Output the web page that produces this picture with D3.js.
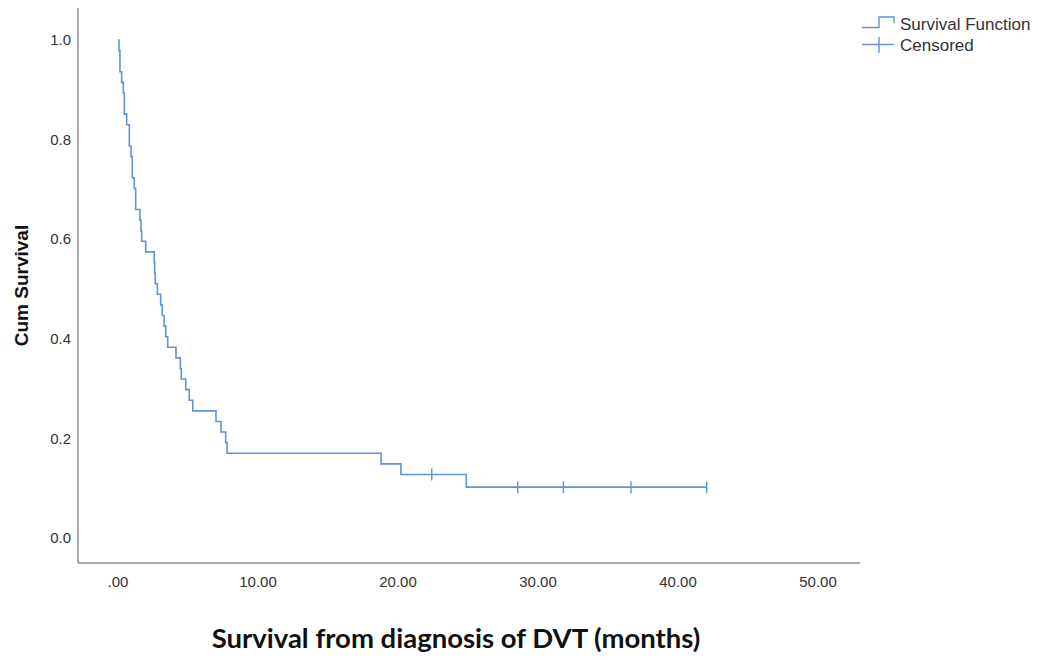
<!DOCTYPE html>
<html>
<head>
<meta charset="utf-8">
<script src="https://cdn.jsdelivr.net/npm/d3@7/dist/d3.min.js"></script>
<style>
  html, body { margin: 0; padding: 0; background: #ffffff; }
  svg { display: block; }
</style>
</head>
<body>
<svg id="chart" width="1038" height="660"></svg>
<script>
// Kaplan-Meier data: months from DVT diagnosis to event (death) and censored follow-up times
const eventTimes = [
  0.07, 0.14, 0.14, 0.26, 0.38, 0.45, 0.45, 0.62, 0.81, 0.81,
  0.93, 1.02, 1.02, 1.16, 1.26, 1.26, 1.57, 1.64, 1.69, 1.98,
  2.59, 2.62, 2.66, 2.81, 3.05, 3.16, 3.29, 3.41, 3.55, 4.14,
  4.45, 4.52, 4.84, 5.09, 5.34, 7.00, 7.36, 7.69, 7.79, 18.79,
  20.21, 24.88
];
const censoredTimes = [22.41, 28.55, 31.81, 36.64, 42.05];

const xTicks = [0, 10, 20, 30, 40, 50];
const yTicks = [0, 0.2, 0.4, 0.6, 0.8, 1.0];
const legendLabels = ["Survival Function", "Censored"];

const curveColor = "#5f93da";
const axisColor = "#8c8c8c";
const textColor = "#333333";

const svg = d3.select("#chart");

const x = d3.scaleLinear().domain([0, 50]).range([118, 818]);
const y = d3.scaleLinear().domain([0, 1]).range([538, 40]);

const plotLeft = 78, plotRight = 860, plotTop = 8, plotBottom = 563;

// Build the product-limit estimate from the raw observations
const obs = eventTimes.map(t => ({t, event: true}))
  .concat(censoredTimes.map(t => ({t, event: false})))
  .sort((a, b) => a.t - b.t || (b.event - a.event));

let atRisk = obs.length;
let surv = 1;
const steps = [{t: 0, s: 1}];
const censorMarks = [];
const uniqueTimes = Array.from(new Set(obs.map(o => o.t))).sort((a, b) => a - b);
uniqueTimes.forEach(t => {
  const here = obs.filter(o => o.t === t);
  const d = here.filter(o => o.event).length;
  const c = here.length - d;
  if (d > 0) {
    surv = surv * (atRisk - d) / atRisk;
    steps.push({t, s: surv});
  }
  if (c > 0) censorMarks.push({t, s: surv});
  atRisk -= here.length;
});
const lastTime = uniqueTimes[uniqueTimes.length - 1];
steps.push({t: lastTime, s: surv});

// Axis lines (no tick marks)
svg.append("line")
  .attr("x1", plotLeft).attr("x2", plotLeft)
  .attr("y1", plotTop).attr("y2", plotBottom)
  .attr("stroke", axisColor).attr("stroke-width", 1.5);
svg.append("line")
  .attr("x1", plotLeft).attr("x2", plotRight)
  .attr("y1", plotBottom).attr("y2", plotBottom)
  .attr("stroke", axisColor).attr("stroke-width", 1.5);

// Tick labels
svg.append("g").selectAll("text")
  .data(yTicks).join("text")
  .attr("x", 71)
  .attr("y", d => y(d))
  .attr("dy", "0.35em")
  .attr("text-anchor", "end")
  .attr("font-family", "Liberation Sans, Arial, sans-serif")
  .attr("font-size", 15)
  .attr("fill", textColor)
  .text(d => d.toFixed(1));

svg.append("g").selectAll("text")
  .data(xTicks).join("text")
  .attr("x", d => x(d))
  .attr("y", 587)
  .attr("text-anchor", "middle")
  .attr("font-family", "Liberation Sans, Arial, sans-serif")
  .attr("font-size", 15)
  .attr("fill", textColor)
  .text(d => d === 0 ? ".00" : d.toFixed(2));

// Axis titles
svg.append("text")
  .attr("transform", `translate(28, ${(plotTop + plotBottom) / 2}) rotate(-90)`)
  .attr("text-anchor", "middle")
  .attr("font-family", "Liberation Sans, Arial, sans-serif")
  .attr("font-weight", "bold")
  .attr("font-size", 19)
  .attr("fill", "#111")
  .text("Cum Survival");

svg.append("text")
  .attr("x", 456)
  .attr("y", 648)
  .attr("text-anchor", "middle")
  .attr("font-family", "Lato, 'Open Sans', sans-serif")
  .attr("font-weight", "bold")
  .attr("font-size", 27.5)
  .attr("fill", "#111")
  .text("Survival from diagnosis of DVT (months)");

// Survival step curve
const line = d3.line()
  .x(d => x(d.t))
  .y(d => y(d.s))
  .curve(d3.curveStepAfter);

svg.append("path")
  .datum(steps)
  .attr("d", line)
  .attr("fill", "none")
  .attr("stroke", curveColor)
  .attr("stroke-width", 1.6);

// Censoring marks
svg.append("g").selectAll("line")
  .data(censorMarks).join("line")
  .attr("x1", d => x(d.t)).attr("x2", d => x(d.t))
  .attr("y1", d => y(d.s) - 6).attr("y2", d => y(d.s) + 6)
  .attr("stroke", curveColor)
  .attr("stroke-width", 1.4);

// Legend
const lg = svg.append("g");
lg.append("path")
  .attr("d", "M862,27.5 H879 V17 H894 V23")
  .attr("fill", "none")
  .attr("stroke", curveColor)
  .attr("stroke-width", 1.4);
lg.append("line")
  .attr("x1", 862).attr("x2", 894).attr("y1", 44.5).attr("y2", 44.5)
  .attr("stroke", curveColor).attr("stroke-width", 1.4);
lg.append("line")
  .attr("x1", 879).attr("x2", 879).attr("y1", 37).attr("y2", 53)
  .attr("stroke", curveColor).attr("stroke-width", 1.4);
lg.selectAll("text")
  .data(legendLabels).join("text")
  .attr("x", 900)
  .attr("y", (d, i) => 30 + i * 21)
  .attr("font-family", "Liberation Sans, Arial, sans-serif")
  .attr("font-size", 17)
  .attr("fill", textColor)
  .text(d => d);
</script>
</body>
</html>
